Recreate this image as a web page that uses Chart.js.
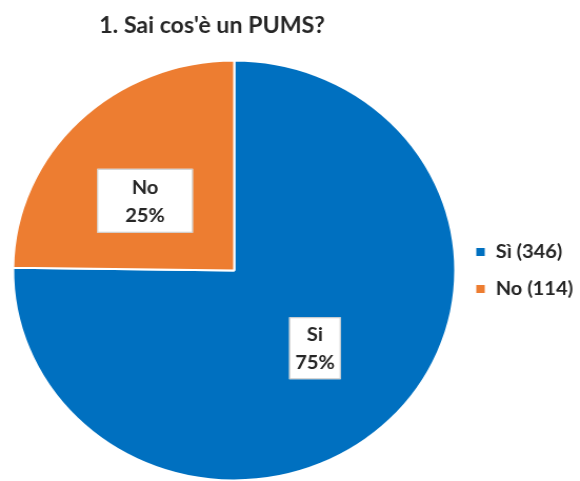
<!DOCTYPE html>
<html>
<head>
<meta charset="utf-8">
<script src="https://cdn.jsdelivr.net/npm/chart.js@4.4.0/dist/chart.umd.min.js"></script>
<style>
  html, body { margin: 0; padding: 0; background: #fff; overflow: hidden; }
  /* l'originale è leggermente allargato in orizzontale */
  #wrap { position: absolute; left: 0; top: 0; width: 551px; height: 482px;
          transform: scaleX(1.0526); transform-origin: 0 0; }
</style>
</head>
<body>
<div id="wrap"><canvas id="pie"></canvas></div>
<script>
// dati del grafico
var chartTitle = "1. Sai cos'è un PUMS?";
var categories = ['Sì', 'No'];
var sliceLabels = ['Si', 'No'];
var answers = [346, 114];
var sliceColors = ['#0070C0', '#ED7D31'];

var FONT = 'Lato, "Open Sans", sans-serif';

// titolo spostato leggermente a sinistra come nell'originale
var titlePlugin = {
  id: 'leftTitle',
  afterDraw: function (chart, args, opts) {
    var ctx = chart.ctx;
    var area = chart.chartArea;
    ctx.save();
    ctx.font = 'bold 22px ' + FONT;
    ctx.fillStyle = '#262626';
    ctx.textAlign = 'center';
    ctx.textBaseline = 'alphabetic';
    ctx.fillText(opts.text, (area.left + area.right) / 2 + opts.shift, opts.baseline);
    ctx.restore();
  }
};

// etichette dentro le fette (box bianco con bordo grigio)
var boxLabelPlugin = {
  id: 'boxLabels',
  afterDatasetsDraw: function (chart, args, opts) {
    var ctx = chart.ctx;
    var meta = chart.getDatasetMeta(0);
    var data = chart.data.datasets[0].data;
    var total = data.reduce(function (a, b) { return a + b; }, 0);
    ctx.save();
    ctx.font = 'bold 19px ' + FONT;
    meta.data.forEach(function (arc, i) {
      var p = arc.getProps(['x', 'y', 'startAngle', 'endAngle', 'outerRadius'], true);
      var mid = (p.startAngle + p.endAngle) / 2;
      var r = p.outerRadius * opts.dist[i];
      var cx = p.x + Math.cos(mid) * r + opts.dx[i];
      var cy = p.y + Math.sin(mid) * r + opts.dy[i];
      var w = opts.boxW[i], h = opts.boxH[i];
      ctx.fillStyle = '#fff';
      ctx.fillRect(cx - w / 2, cy - h / 2, w, h);
      ctx.strokeStyle = '#c8c8c8';
      ctx.lineWidth = 1;
      ctx.strokeRect(cx - w / 2 + 0.5, cy - h / 2 + 0.5, w - 1, h - 1);
      ctx.fillStyle = '#262626';
      ctx.textAlign = 'center';
      ctx.textBaseline = 'middle';
      var pct = Math.round(data[i] / total * 100) + '%';
      ctx.fillText(sliceLabels[i], cx, cy - 13);
      ctx.fillText(pct, cx, cy + 15);
    });
    ctx.restore();
  }
};

new Chart(document.getElementById('pie'), {
  type: 'pie',
  data: {
    labels: categories.map(function (c, i) { return c + ' (' + answers[i] + ')'; }),
    datasets: [{
      data: answers,
      backgroundColor: sliceColors,
      borderColor: '#ffffff',
      borderWidth: 2
    }]
  },
  options: {
    responsive: true,
    maintainAspectRatio: false,
    animation: false,
    layout: { padding: { top: 59, right: 0, bottom: 0, left: 11.5 } },
    plugins: {
      legend: {
        position: 'right',
        maxWidth: 117.5,
        labels: {
          boxWidth: 10,
          boxHeight: 10,
          padding: 18,
          color: '#262626',
          font: { family: FONT, size: 19, weight: 'bold' }
        }
      },
      tooltip: { enabled: false },
      leftTitle: { text: chartTitle, shift: -21, baseline: 33 },
      boxLabels: {
        dist: [0.52, 0.52],
        dx: [0, -8],
        dy: [0, 8],
        boxW: [49, 91],
        boxH: [62, 64]
      }
    }
  },
  plugins: [titlePlugin, boxLabelPlugin]
});
</script>
</body>
</html>
